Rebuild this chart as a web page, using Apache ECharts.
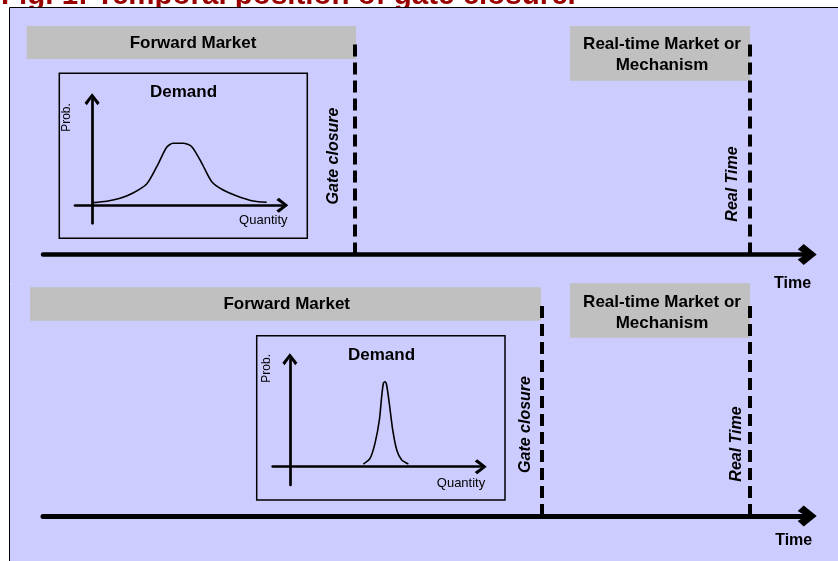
<!DOCTYPE html>
<html>
<head>
<meta charset="utf-8">
<script src="https://cdn.jsdelivr.net/npm/echarts@6/dist/echarts.min.js"></script>
<style>
  html, body { margin: 0; padding: 0; background: #fff; }
  #chart { width: 838px; height: 561px; }
</style>
</head>
<body>
<div id="chart"></div>
<script>
// ---- Data ----
const titleText = 'Fig. 1: Temporal position of gate closure.';
const marketLabels = ['Forward Market', 'Real-time Market or\nMechanism'];
const eventLabels = ['Gate closure', 'Real Time'];
const timeAxisName = 'Time';
const demandTitle = 'Demand';
const probLabel = 'Prob.';
const qtyLabel = 'Quantity';

// time positions (0..100 along the time axis) : [top panel, bottom panel]
const gateClosure = [40.8, 65.3];
const realTime = [92.5, 92.5];

// wide demand distribution (top panel)
const wideQty  = [0.6, 7.7, 14.7, 21.5, 28.7, 34.0, 39.2, 42.5, 47.8, 52.4, 57.7, 62.9, 68.9, 76.1, 84.6, 91.8];
const wideProb = [2.5, 3.8, 6.6, 11.6, 20.1, 36.4, 54.7, 58.5, 58.5, 55.3, 39.6, 22.3, 14.4, 8.8, 4.1, 2.8];

// narrow demand distribution (bottom panel)
const narrowQty  = [38.5, 42.0, 44.6, 46.9, 48.1, 49.0, 49.8, 50.7, 52.1, 53.9, 56.0, 58.6, 62.1];
const narrowProb = [2.5, 7.8, 21.8, 43.5, 65.2, 77.7, 79.1, 76.1, 59.0, 34.2, 15.5, 6.2, 2.5];

// ---- Styles ----
const FONT = '"Liberation Sans", Arial, sans-serif';
const bigArrow = 'path://M10.5,0 L21,13 L15.5,19 L10.5,11 L5.5,19 L0,13 Z';
const smallArrow = 'path://M7.5,0 L15,9.5 L12.8,12 L7.5,4.5 L2.2,12 L0,9.5 Z';

function zip(a, b) { return a.map((v, i) => [v, b[i]]); }

const chart = echarts.init(document.getElementById('chart'), null, { renderer: 'canvas' });

function timeAxis(gridIndex, width) {
  return {
    type: 'value', gridIndex, min: 0, max: 100,
    axisLine: { show: true, onZero: false, symbol: ['none', bigArrow], symbolSize: [21, 19],
      lineStyle: { color: '#000', width: width } },
    axisTick: { show: false }, axisLabel: { show: false }, splitLine: { show: false }
  };
}
function demandX(gridIndex) {
  return {
    type: 'value', gridIndex, min: -9, max: 100,
    axisLine: { show: true, onZero: true, symbol: ['none', smallArrow], symbolSize: [15, 12],
      lineStyle: { color: '#000', width: 2.7 } },
    axisTick: { show: false }, axisLabel: { show: false }, splitLine: { show: false }
  };
}
function demandY(gridIndex) {
  return {
    type: 'value', gridIndex, min: -17, max: 100,
    axisLine: { show: true, onZero: true, symbol: ['none', smallArrow], symbolSize: [15, 12],
      lineStyle: { color: '#000', width: 2.7 } },
    axisTick: { show: false }, axisLabel: { show: false }, splitLine: { show: false }
  };
}
function hiddenY(gridIndex) {
  return { type: 'value', gridIndex, min: 0, max: 1, show: false };
}

function txt(x, y, text, font, extra) {
  return Object.assign({
    type: 'text', x: x, y: y, z: 5,
    style: { text: text, font: font, fill: '#000', align: 'center', verticalAlign: 'middle', lineHeight: 21 }
  }, extra || {});
}
function grayBox(x, y, w, h) {
  return { type: 'rect', z: 1, shape: { x: x, y: y, width: w, height: h }, style: { fill: '#C0C0C0' } };
}
function frameBox(x, y, w, h) {
  return { type: 'rect', z: 1, shape: { x: x, y: y, width: w, height: h },
    style: { fill: 'none', stroke: '#000', lineWidth: 1.5 } };
}

const markStyle = { color: '#000', width: 4, type: [12, 6] };

const option = {
  animation: false,
  backgroundColor: '#ffffff',
  grid: [
    { left: 43, top: 42, width: 764.2, height: 212.5, outerBoundsMode: 'none', containLabel: false },
    { left: 43, top: 301, width: 764.2, height: 215, outerBoundsMode: 'none', containLabel: false },
    { left: 75, top: 99.3, width: 207.3, height: 124, outerBoundsMode: 'none', containLabel: false },
    { left: 272.7, top: 359.3, width: 208, height: 125.7, outerBoundsMode: 'none', containLabel: false }
  ],
  xAxis: [timeAxis(0, 4.5), timeAxis(1, 5), demandX(2), demandX(3)],
  yAxis: [hiddenY(0), hiddenY(1), demandY(2), demandY(3)],
  series: [
    {
      type: 'line', xAxisIndex: 0, yAxisIndex: 0, data: [], silent: true,
      markLine: { silent: true, symbol: ['none', 'none'], label: { show: false }, lineStyle: markStyle,
        data: [{ xAxis: gateClosure[0] }, { xAxis: realTime[0] }] }
    },
    {
      type: 'line', xAxisIndex: 1, yAxisIndex: 1, data: [], silent: true,
      markLine: { silent: true, symbol: ['none', 'none'], label: { show: false }, lineStyle: markStyle,
        data: [{ xAxis: gateClosure[1] }, { xAxis: realTime[1] }] }
    },
    {
      type: 'line', xAxisIndex: 2, yAxisIndex: 2, data: zip(wideQty, wideProb),
      showSymbol: false, smooth: 0.25, lineStyle: { color: '#000', width: 1.6 }, silent: true
    },
    {
      type: 'line', xAxisIndex: 3, yAxisIndex: 3, data: zip(narrowQty, narrowProb),
      showSymbol: false, smooth: 0.25, lineStyle: { color: '#000', width: 1.6 }, silent: true
    }
  ],
  graphic: { elements: [
    // title (partially hidden by frame)
    { type: 'text', x: 1, y: -3.7, z: -2,
      style: { text: titleText, font: 'bold 29.5px ' + FONT, fill: '#990000', align: 'left', verticalAlign: 'middle' } },
    // frame (extends past right and bottom edges)
    { type: 'rect', z: -1, shape: { x: 9.5, y: 7.5, width: 900, height: 600 },
      style: { fill: '#CCCCFF', stroke: '#000', lineWidth: 1 } },
    // market boxes
    grayBox(26.7, 26, 329.3, 33),
    grayBox(570, 26, 180, 54.7),
    grayBox(30, 287.3, 511, 33.4),
    grayBox(570, 283.3, 180, 54.4),
    // demand boxes
    frameBox(59.3, 73.3, 248, 165),
    frameBox(256.7, 335.7, 248.3, 164.3),
    // market labels
    txt(193, 43.5, marketLabels[0], 'bold 17px ' + FONT),
    txt(662, 55, marketLabels[1], 'bold 17px ' + FONT),
    txt(286.7, 304.5, marketLabels[0], 'bold 17px ' + FONT),
    txt(662, 313, marketLabels[1], 'bold 17px ' + FONT),
    // event labels (rotated)
    txt(334, 156, eventLabels[0], 'italic bold 16px ' + FONT, { rotation: Math.PI / 2 }),
    txt(733, 184, eventLabels[1], 'italic bold 16px ' + FONT, { rotation: Math.PI / 2 }),
    txt(525.5, 424.5, eventLabels[0], 'italic bold 16px ' + FONT, { rotation: Math.PI / 2 }),
    txt(736.5, 444, eventLabels[1], 'italic bold 16px ' + FONT, { rotation: Math.PI / 2 }),
    // time labels
    txt(792.5, 284, timeAxisName, 'bold 16px ' + FONT),
    txt(793.7, 540.5, timeAxisName, 'bold 16px ' + FONT),
    // demand texts
    txt(183.5, 92.5, demandTitle, 'bold 17px ' + FONT),
    txt(381.5, 355.5, demandTitle, 'bold 17px ' + FONT),
    txt(67, 117.5, probLabel, '12px ' + FONT, { rotation: Math.PI / 2 }),
    txt(266.7, 368.3, probLabel, '12px ' + FONT, { rotation: Math.PI / 2 }),
    txt(263.3, 220.5, qtyLabel, '13px ' + FONT),
    txt(461, 483, qtyLabel, '13px ' + FONT)
  ] }
};

chart.setOption(option);
</script>
</body>
</html>
